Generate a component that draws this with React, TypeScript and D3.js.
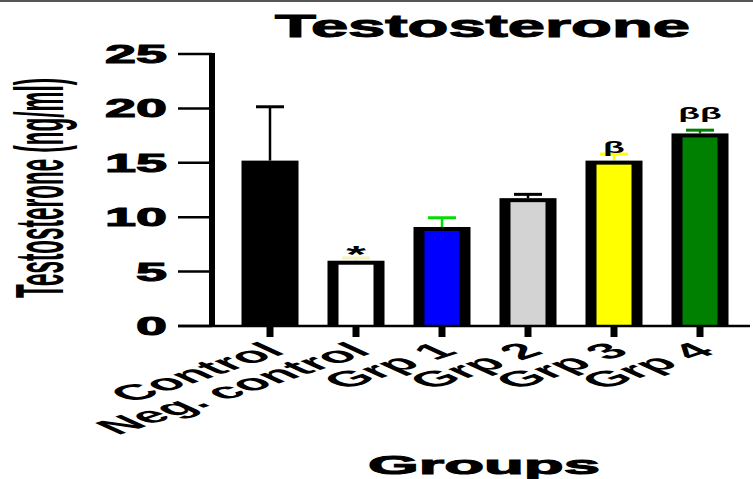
import React from 'react';
import * as d3 from 'd3';

const groups = ['Control', 'Neg. control', 'Grp 1', 'Grp 2', 'Grp 3', 'Grp 4'];
const means = [15.2, 6.0, 9.1, 11.75, 15.2, 17.7];
const errors = [4.95, 0.25, 0.85, 0.35, 0.6, 0.3];
const fills = ['#000000', '#ffffff', '#0000ff', '#d3d3d3', '#ffff00', '#008000'];
const errColors = ['#000000', '#f7f2c4', '#00e000', '#000000', '#ffff00', '#008000'];
const marks = ['', '*', '', '', 'β', 'ββ'];
const yTicks = [0, 5, 10, 15, 20, 25];

const W = 753;
const H = 479;

export default function App() {
  const x = d3.scalePoint<string>().domain(groups).range([270, 700]);
  const y = d3.scaleLinear().domain([0, 25]).range([326, 54]);
  const barW = 57;
  const side = 11;
  const topB = 4;
  const capW = 28;
  const sx = 2.1; // the whole figure is stretched sideways
  const font = "'Liberation Sans', Arial, sans-serif";

  // vertical gap between error cap and the significance mark baseline
  const markGap = (m: string) => (m === '*' ? -5 : m === 'ββ' ? 11 : 1);

  return (
    <svg width={W} height={H} style={{ position: 'absolute', left: 0, top: 0, background: '#fff' }}>
      <rect x={0} y={0} width={W} height={2} fill="#555" />

      {/* title */}
      <text x={275} y={37} fontFamily={font} fontWeight="bold" fontSize={31}
        textLength={415} lengthAdjust="spacingAndGlyphs" stroke="#000" strokeWidth={1}>Testosterone</text>

      {/* y label */}
      <g transform={`translate(63,${y(12.5) - 2}) scale(${sx},1) rotate(-90) scale(0.68,1)`}>
        <text textAnchor="middle" fontFamily={font} fontWeight="bold" fontSize={33}>Testosterone (ng/ml)</text>
      </g>

      {/* bars */}
      {groups.map((g, i) => {
        const cx = x(g)!;
        const top = y(means[i]);
        const bottom = y(0);
        const capY = y(means[i] + errors[i]);
        return (
          <g key={g}>
            <line x1={cx} x2={cx} y1={top} y2={capY} stroke={errColors[i]} strokeWidth={2.5} />
            <line x1={cx - capW / 2} x2={cx + capW / 2} y1={capY} y2={capY} stroke={errColors[i]} strokeWidth={3} />
            <rect x={cx - barW / 2} y={top} width={barW} height={bottom - top} fill="#000" />
            {i > 0 && (
              <rect x={cx - barW / 2 + side} y={top + topB} width={barW - 2 * side} height={bottom - top - topB} fill={fills[i]} />
            )}
            {marks[i] && (
              <g transform={`translate(${cx},${capY - markGap(marks[i])}) scale(${sx},1)`}>
                <text textAnchor="middle" fontFamily={font} fontWeight="bold"
                  fontSize={marks[i] === '*' ? 24 : 17}>{marks[i]}</text>
              </g>
            )}
          </g>
        );
      })}

      {/* x axis */}
      <line x1={178} x2={750} y1={y(0)} y2={y(0)} stroke="#000" strokeWidth={2.5} />
      {groups.map((g) => (
        <line key={g} x1={x(g)!} x2={x(g)!} y1={y(0)} y2={y(0) + 11} stroke="#000" strokeWidth={7} />
      ))}
      {groups.map((g) => (
        <g key={g} transform={`translate(${x(g)! + 17},353) scale(2.6,1) rotate(-40)`}>
          <text textAnchor="end" fontFamily={font} fontWeight="bold" fontSize={22}>{g}</text>
        </g>
      ))}

      {/* y axis */}
      <line x1={212} x2={212} y1={y(25) - 1} y2={y(0) + 1} stroke="#000" strokeWidth={6} />
      {yTicks.map((t) => (
        <g key={t}>
          <line x1={178} x2={212} y1={y(t)} y2={y(t)} stroke="#000" strokeWidth={2.5} />
          <text x={167 - String(t).length * 31} y={y(t) + 9} fontFamily={font} fontWeight="bold" fontSize={25}
            stroke="#000" strokeWidth={1}
            textLength={String(t).length * 31} lengthAdjust="spacingAndGlyphs">{t}</text>
        </g>
      ))}

      {/* x label */}
      <text x={368} y={474} fontFamily={font} fontWeight="bold" fontSize={26} stroke="#000" strokeWidth={1}
        textLength={232} lengthAdjust="spacingAndGlyphs">Groups</text>
    </svg>
  );
}
